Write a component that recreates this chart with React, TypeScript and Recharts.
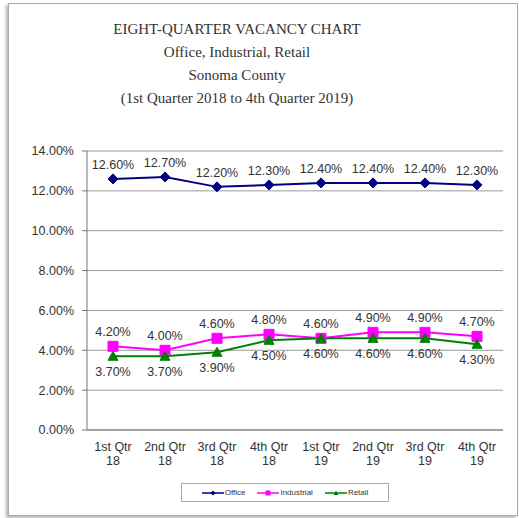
import { LineChart, Line, XAxis, YAxis, CartesianGrid, LabelList } from 'recharts';

const quarters = ['1st Qtr', '2nd Qtr', '3rd Qtr', '4th Qtr', '1st Qtr', '2nd Qtr', '3rd Qtr', '4th Qtr'];
const years = ['18', '18', '18', '18', '19', '19', '19', '19'];
const office = [12.6, 12.7, 12.2, 12.3, 12.4, 12.4, 12.4, 12.3];
const industrial = [4.2, 4.0, 4.6, 4.8, 4.6, 4.9, 4.9, 4.7];
const retail = [3.7, 3.7, 3.9, 4.5, 4.6, 4.6, 4.6, 4.3];
const yTicks = [0, 2, 4, 6, 8, 10, 12, 14];
const titleLines = [
  'EIGHT-QUARTER VACANCY CHART',
  'Office, Industrial, Retail',
  'Sonoma County',
  '(1st Quarter 2018 to 4th Quarter 2019)',
];

const series = [
  { key: 'office', name: 'Office', color: '#000080', shape: 'diamond', labelPos: 'top' },
  { key: 'industrial', name: 'Industrial', color: '#FF00FF', shape: 'square', labelPos: 'top' },
  { key: 'retail', name: 'Retail', color: '#008000', shape: 'triangle', labelPos: 'bottom' },
];

const data = quarters.map((q, i) => ({
  label: `${q} ${years[i]}`,
  office: office[i],
  industrial: industrial[i],
  retail: retail[i],
}));

const pct = (v: number) => `${Number(v).toFixed(2)}%`;
const FONT = 'Arial, "Liberation Sans", sans-serif';

function markerPath(shape: string, cx: number, cy: number, s: number) {
  if (shape === 'diamond') {
    return `M${cx},${cy - s} L${cx + s},${cy} L${cx},${cy + s} L${cx - s},${cy} Z`;
  }
  if (shape === 'square') {
    return `M${cx - s},${cy - s} H${cx + s} V${cy + s} H${cx - s} Z`;
  }
  return `M${cx},${cy - s} L${cx + s},${cy + s * 0.8} L${cx - s},${cy + s * 0.8} Z`;
}

const makeDot = (shape: string, color: string, s: number) => (props: any) => {
  const { cx, cy, index } = props;
  if (cx == null || cy == null) return <g key={index} />;
  return <path key={index} d={markerPath(shape, cx, cy, s)} fill={color} stroke={color} strokeWidth={1} />;
};

const QuarterTick = (props: any) => {
  const { x, y, payload } = props;
  const text: string = payload.value;
  const cut = text.lastIndexOf(' ');
  return (
    <text x={x} y={y} textAnchor="middle" fill="#333" fontSize={12.5} fontFamily={FONT}>
      <tspan x={x} dy={21}>{text.slice(0, cut)}</tspan>
      <tspan x={x} dy={14}>{text.slice(cut + 1)}</tspan>
    </text>
  );
};

export default function App() {
  return (
    <div style={{ position: 'absolute', left: 0, top: 0, width: 519, height: 518, background: '#fff', overflow: 'hidden' }}>
      <div
        style={{
          position: 'absolute',
          left: 8,
          top: 3,
          width: 508,
          height: 511,
          border: '1px solid #aaa',
          boxShadow: '-2px 2px 3px rgba(0,0,0,0.3)',
          background: '#fff',
        }}
      />
      <div
        style={{
          position: 'absolute',
          left: 0,
          top: 18,
          width: 474,
          textAlign: 'center',
          fontFamily: '"Liberation Serif", "Times New Roman", serif',
          fontSize: 15,
          lineHeight: '23px',
          color: '#333',
        }}
      >
        {titleLines.map((t) => (
          <div key={t}>{t}</div>
        ))}
      </div>
      <div style={{ position: 'absolute', left: 0, top: 0 }}>
        <LineChart width={519} height={518} data={data} margin={{ top: 151, right: 16, bottom: 48, left: 7 }}>
          <CartesianGrid horizontal vertical={false} stroke="#999" />
          <XAxis
            dataKey="label"
            type="category"
            padding={{ left: 26, right: 26 }}
            axisLine={{ stroke: '#777' }}
            tickLine={false}
            tickSize={0}
            tickMargin={0}
            height={40}
            interval={0}
            tick={<QuarterTick />}
          />
          <YAxis
            domain={[0, 14]}
            ticks={yTicks}
            tickFormatter={pct}
            width={80}
            tickSize={5}
            tickMargin={8}
            axisLine={{ stroke: '#777' }}
            tickLine={{ stroke: '#777' }}
            tick={{ fill: '#333', fontSize: 12.5, fontFamily: FONT }}
            interval={0}
          />
          <YAxis
            yAxisId="frame"
            orientation="right"
            domain={[0, 14]}
            width={0}
            tick={false}
            tickLine={false}
            axisLine={{ stroke: '#999' }}
          />
          {series.map((s) => (
            <Line
              key={s.key}
              type="linear"
              dataKey={s.key}
              name={s.name}
              stroke={s.color}
              strokeWidth={2}
              dot={makeDot(s.shape, s.color, 5)}
              activeDot={false}
              isAnimationActive={false}
            >
              <LabelList
                dataKey={s.key}
                position={s.labelPos as any}
                offset={s.labelPos === 'top' ? 10 : 11}
                formatter={(v: any) => pct(v)}
                fill="#333"
                fontSize={12.5}
                fontFamily={FONT}
              />
            </Line>
          ))}
        </LineChart>
      </div>
      <div
        style={{
          position: 'absolute',
          left: 181,
          top: 483,
          width: 206,
          height: 17,
          border: '1px solid #aaa',
          background: '#fff',
          display: 'flex',
          alignItems: 'center',
          justifyContent: 'center',
          gap: 12,
          fontFamily: FONT,
          fontSize: 8,
          color: '#333',
        }}
      >
        {series.map((s) => (
          <div key={s.key} style={{ display: 'flex', alignItems: 'center' }}>
            <svg width={22} height={8}>
              <line x1={0} y1={4} x2={22} y2={4} stroke={s.color} strokeWidth={1.5} />
              <path d={markerPath(s.shape, 11, 4, 2.5)} fill={s.color} />
            </svg>
            <span style={{ marginLeft: 1 }}>{s.name}</span>
          </div>
        ))}
      </div>
    </div>
  );
}
